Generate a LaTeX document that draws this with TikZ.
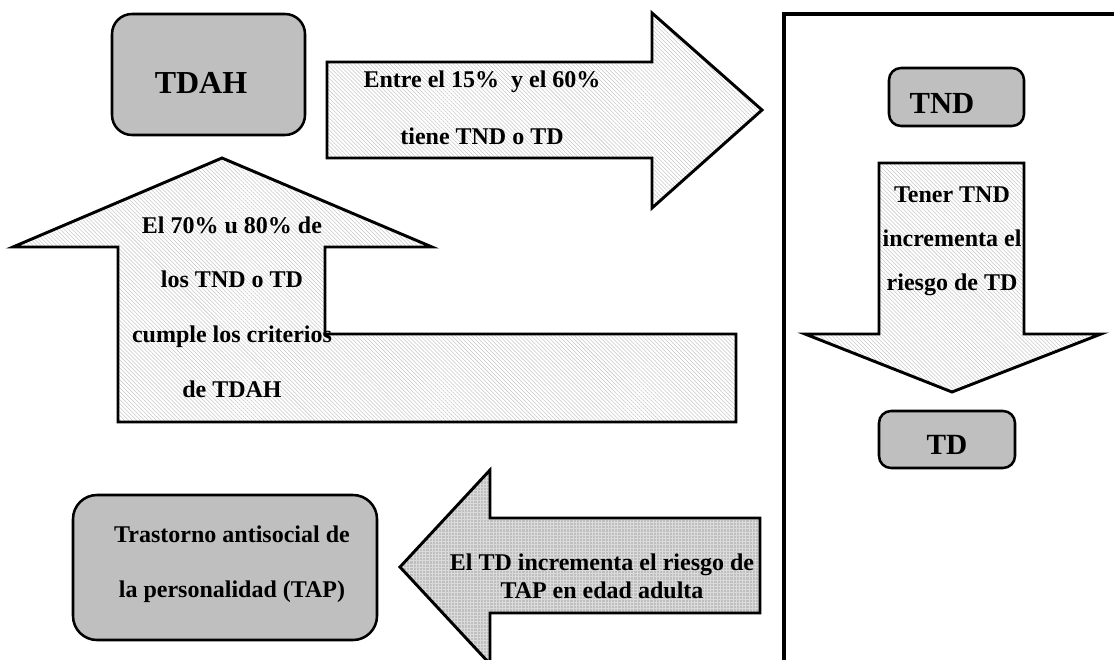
\documentclass[tikz,border=0pt]{standalone}
\usepackage{fontspec}
\setmainfont{Liberation Serif}
\usetikzlibrary{patterns.meta}

\tikzset{
  hatched/.style={preaction={pattern={Lines[angle=-45, distance=2.1pt, line width=0.4pt]},
    pattern color=gray!45}, draw=black, line width=2.2pt, line join=miter},
  gridlines/.style={pattern={Hatch[angle=0, distance=2.4pt, line width=0.45pt]}, pattern color=gray!28},
  gridded/.style={preaction={fill=gray!50}, preaction={gridlines},
    draw=black, line width=2.2pt, line join=miter},
  box/.style={draw=black, line width=1.9pt, fill=gray!50, rounded corners=#1},
  frame/.style={draw=black, line width=2.6pt},
  txt/.style={font={\fontsize{18pt}{#1}\selectfont\bfseries}, align=center, inner sep=0pt},
  bigtxt/.style={font={\fontsize{#1}{#1}\selectfont\bfseries}, inner sep=0pt}
}

\begin{document}
\begin{tikzpicture}[x=0.75pt, y=-0.75pt]
        \useasboundingbox (0,0) rectangle (1114,660);

        % right-hand frame
        \draw[frame] (1120,14) -- (784,14) -- (784,670);

        % block arrows
        \draw[hatched] (327,62) -- (652,62) -- (652,13) -- (762,110)
            -- (652,208) -- (652,158) -- (327,158) -- cycle;
        \draw[hatched] (118,422) -- (118,247) -- (13,247) -- (222,158)
            -- (432,247) -- (325,247) -- (325,334) -- (736,334) -- (736,422) -- cycle;
        \draw[hatched] (879,163) -- (1024,163) -- (1024,334) -- (1101,334)
            -- (952,392) -- (805,334) -- (879,334) -- cycle;
        \draw[gridded] (760,518) -- (490,518) -- (490,470) -- (400,567)
            -- (490,664) -- (490,613) -- (760,613) -- cycle;

        % boxes
        \draw[box=15pt] (112,14) rectangle (305,135);
        \draw[box=9pt] (889,68) rectangle (1024,126);
        \draw[box=9pt] (879,411) rectangle (1015,468);
        \draw[box=18pt] (73,495) rectangle (377,640);

        \node[bigtxt=24pt] (tdah) at (201,83) {TDAH};
        \node[bigtxt=23pt] (tnd) at (942,103) {TND};
        \node[bigtxt=22pt] (td) at (947,445) {TD};
        \node[txt=41pt] (tap) at (232,564) {Trastorno antisocial de\\la personalidad (TAP)};

        % arrow texts
        \node[txt=42.75pt] (share) at (482,108) {Entre el 15\%\ \ y el 60\%\\tiene TND o TD};
        \node[txt=41pt] (criteria) at (232,307) {El 70\% u 80\% de\\los TND o TD\\cumple los criterios\\de TDAH};
        \node[txt=33pt] (risktd) at (952,241) {Tener TND\\incrementa el\\riesgo de TD};
        \node[txt=21pt] (risktap) at (602,576) {El TD incrementa el riesgo de\\TAP en edad adulta};
    \end{tikzpicture}
\end{document}
